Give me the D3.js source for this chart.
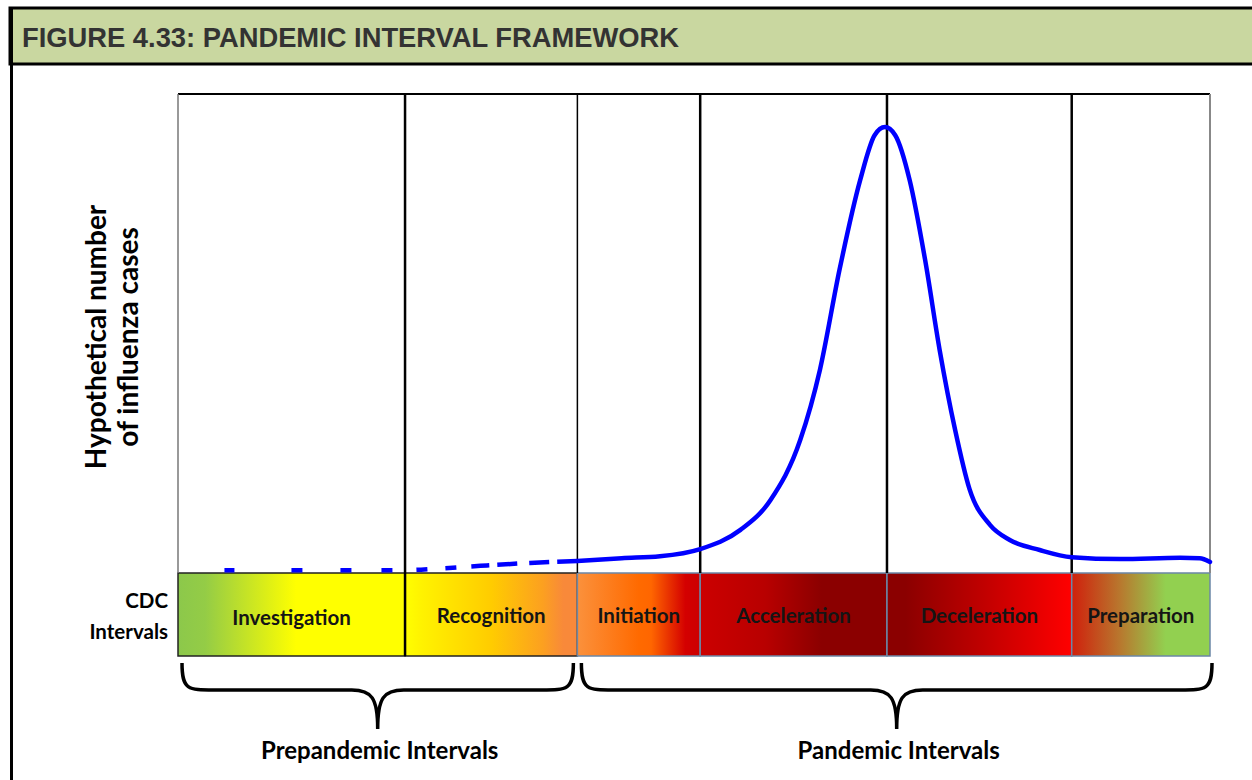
<!DOCTYPE html>
<html>
<head>
<meta charset="utf-8">
<script src="https://cdn.jsdelivr.net/npm/d3@7"></script>
<style>
  body { margin: 0; background: #fff; }
  svg { display: block; }
</style>
</head>
<body>
<script>
// chart values
let titleText = "FIGURE 4.33: PANDEMIC INTERVAL FRAMEWORK";
let intervalNames = ["Investigation", "Recognition", "Initiation", "Acceleration", "Deceleration", "Preparation"];
// interval edges on a 0-100 time axis
let intervalEdges = [0, 22, 38.7, 50.6, 68.7, 86.6, 100];
let groupNames = ["Prepandemic Intervals", "Pandemic Intervals"];
let groupSpans = [[0, 2], [2, 6]]; // edge indexes
let yLabelLines = ["Hypothetical number", "of influenza cases"];
let rowLabelLines = ["CDC", "Intervals"];

// prepandemic (dashed) part of the curve
let preTime = [4.5, 11.8, 16.7, 22.0, 25.0, 29.3, 34.1, 38.7];
let preCases = [0.6, 0.6, 0.6, 0.6, 0.9, 1.5, 2.1, 2.5];
// pandemic (solid) part of the curve
let pandTime = [38.7, 43.0, 46.7, 50.6, 54.5, 57.4, 60.3, 62.2, 64.1, 66.1, 67.5, 68.5, 69.5, 70.9, 72.4, 73.8, 75.3, 76.7, 78.7, 80.6, 83.5, 86.6, 91.3, 97.1, 99.0, 100];
let pandCases = [2.5, 3.1, 3.5, 5.0, 9.0, 15.2, 27.8, 42.4, 63.3, 82.0, 91.4, 93.1, 91.4, 82.0, 65.3, 46.6, 29.9, 17.5, 10.0, 6.9, 4.8, 3.3, 2.9, 3.2, 3.1, 2.3];

let svgWidth = 1252;
let svgHeight = 780;

let plot = { left: 178, right: 1210, top: 94, bottom: 573 };
let barBottom = 656;
let labelFont = "Lato, 'Open Sans', sans-serif";

let svg = d3.select("body")
    .append("svg")
    .attr("width", svgWidth)
    .attr("height", svgHeight);

// gradients for the interval bar
let gradStops = [
    [[0, "#8cc84b"], [0.12, "#94cc46"], [0.52, "#ffff00"], [1, "#ffff00"]],
    [[0, "#ffff00"], [0.1, "#fff200"], [0.5, "#ffcc00"], [0.8, "#fca020"], [0.92, "#f8893a"], [1, "#f8893a"]],
    [[0, "#fb913c"], [0.5, "#ff6a00"], [0.6, "#ff6600"], [0.88, "#d40000"], [1, "#cc0000"]],
    [[0, "#cc0000"], [0.35, "#b80000"], [0.65, "#8b0000"], [1, "#8b0000"]],
    [[0, "#8b0000"], [0.1, "#8b0000"], [0.55, "#c40000"], [1, "#ff0000"]],
    [[0, "#d0200c"], [0.35, "#b8782e"], [0.68, "#92d050"], [1, "#92d050"]]
];

let defs = svg.append("defs");
gradStops.forEach(function (stops, i) {
    let g = defs.append("linearGradient")
        .attr("id", "grad" + i)
        .attr("x1", "0%").attr("x2", "100%")
        .attr("y1", "0%").attr("y2", "0%");
    stops.forEach(function (s) {
        g.append("stop").attr("offset", s[0]).attr("stop-color", s[1]);
    });
});

// frame + header
svg.append("rect")
    .attr("x", 10).attr("y", 8)
    .attr("width", svgWidth + 20).attr("height", 56)
    .attr("fill", "#c9d7a0")
    .attr("stroke", "#000")
    .attr("stroke-width", 3);

svg.append("line")
    .attr("x1", 11.5).attr("x2", 11.5)
    .attr("y1", 8).attr("y2", svgHeight)
    .attr("stroke", "#000")
    .attr("stroke-width", 3);

svg.append("text")
    .attr("x", 22)
    .attr("y", 47)
    .attr("textLength", 657)
    .attr("lengthAdjust", "spacingAndGlyphs")
    .attr("font-family", "'Liberation Sans Narrow', 'Arial Narrow', 'Liberation Sans', sans-serif")
    .attr("font-weight", "bold")
    .attr("font-size", 28)
    .attr("fill", "#333")
    .text(titleText);

// scales
let xScale = d3.scaleLinear()
    .domain([0, 100])
    .range([plot.left, plot.right]);

let yScale = d3.scaleLinear()
    .domain([0, 100])
    .range([plot.bottom, plot.top]);

// interval bar
let barGroup = svg.append("g");
intervalNames.forEach(function (name, i) {
    let x0 = xScale(intervalEdges[i]);
    let x1 = xScale(intervalEdges[i + 1]);
    barGroup.append("rect")
        .attr("x", x0).attr("y", plot.bottom)
        .attr("width", x1 - x0).attr("height", barBottom - plot.bottom)
        .attr("fill", "url(#grad" + i + ")")
        .attr("stroke", i < 2 ? "#222" : "#6b87a6")
        .attr("stroke-width", 1.5);
    barGroup.append("text")
        .attr("x", (x0 + x1) / 2)
        .attr("y", i === 0 ? 617 : 615)
        .attr("text-anchor", "middle")
        .attr("dominant-baseline", "central")
        .attr("font-family", labelFont)
        .attr("font-weight", "bold")
        .attr("font-size", 20.5)
        .attr("fill", "#151515")
        .text(name);
});

// black separator running through the bar between investigation and recognition
svg.append("line")
    .attr("x1", xScale(intervalEdges[1])).attr("x2", xScale(intervalEdges[1]))
    .attr("y1", plot.top).attr("y2", barBottom)
    .attr("stroke", "#000").attr("stroke-width", 2.5);

// plot frame
svg.append("line")
    .attr("x1", plot.left).attr("x2", plot.right)
    .attr("y1", plot.top).attr("y2", plot.top)
    .attr("stroke", "#000").attr("stroke-width", 2);
svg.append("line")
    .attr("x1", plot.left).attr("x2", plot.left)
    .attr("y1", plot.top).attr("y2", plot.bottom)
    .attr("stroke", "#777").attr("stroke-width", 1.5);
svg.append("line")
    .attr("x1", plot.right).attr("x2", plot.right)
    .attr("y1", plot.top).attr("y2", plot.bottom)
    .attr("stroke", "#888").attr("stroke-width", 2);

// interval dividers
intervalEdges.slice(2, 6).forEach(function (e, i) {
    svg.append("line")
        .attr("x1", xScale(e)).attr("x2", xScale(e))
        .attr("y1", plot.top).attr("y2", plot.bottom)
        .attr("stroke", "#000")
        .attr("stroke-width", i === 0 ? 1.5 : 2.5);
});

// curve
let line = d3.line()
    .x(d => xScale(d[0]))
    .y(d => yScale(d[1]))
    .curve(d3.curveMonotoneX);

let prePoints = preTime.map((t, i) => [t, preCases[i]]);
let pandPoints = pandTime.map((t, i) => [t, pandCases[i]]);

svg.append("path")
    .datum(prePoints)
    .attr("d", line)
    .attr("fill", "none")
    .attr("stroke", "#0000ff")
    .attr("stroke-width", 4.5)
    .attr("stroke-dasharray", "10,57,11,38,11,30,11,24,11,18,11,15,18,8,20,12,20,8,40");

svg.append("path")
    .datum(pandPoints)
    .attr("d", line)
    .attr("fill", "none")
    .attr("stroke", "#0000ff")
    .attr("stroke-width", 4.5)
    .attr("stroke-linecap", "round");

// y axis label
let yLabel = svg.append("text")
    .attr("transform", "translate(106, 337) rotate(-90)")
    .attr("text-anchor", "middle")
    .attr("font-family", labelFont)
    .attr("font-weight", "bold")
    .attr("font-size", 28)
    .attr("fill", "#000");
yLabelLines.forEach(function (t, i) {
    yLabel.append("tspan")
        .attr("x", 0)
        .attr("dy", i === 0 ? 0 : 32)
        .text(t);
});

// row label
rowLabelLines.forEach(function (t, i) {
    svg.append("text")
        .attr("x", 168)
        .attr("y", 608 + i * 31)
        .attr("text-anchor", "end")
        .attr("font-family", labelFont)
        .attr("font-weight", "bold")
        .attr("font-size", 20.5)
        .attr("fill", "#000")
        .text(t);
});

// braces + group labels
let braceTop = 663, braceMid = 690, braceTip = 729;
function bracePath(x0, x1) {
    let xm = (x0 + x1) / 2;
    return `M${x0},${braceTop}` +
        ` C${x0},${braceMid} ${x0 + 6},${braceMid} ${x0 + 32},${braceMid}` +
        ` L${xm - 26},${braceMid}` +
        ` C${xm - 6},${braceMid} ${xm},${braceMid + 8} ${xm},${braceTip}` +
        ` C${xm},${braceMid + 8} ${xm + 6},${braceMid} ${xm + 26},${braceMid}` +
        ` L${x1 - 32},${braceMid}` +
        ` C${x1 - 6},${braceMid} ${x1},${braceMid} ${x1},${braceTop}`;
}

groupNames.forEach(function (name, i) {
    let x0 = xScale(intervalEdges[groupSpans[i][0]]) + 4;
    let x1 = xScale(intervalEdges[groupSpans[i][1]]) + (i === 0 ? -4 : 2);
    svg.append("path")
        .attr("d", bracePath(x0, x1))
        .attr("fill", "none")
        .attr("stroke", "#000")
        .attr("stroke-width", 3.5);
    svg.append("text")
        .attr("x", (x0 + x1) / 2 + 2)
        .attr("y", 759)
        .attr("text-anchor", "middle")
        .attr("font-family", labelFont)
        .attr("font-weight", "bold")
        .attr("font-size", 24)
        .attr("fill", "#000")
        .text(name);
});
</script>
</body>
</html>
